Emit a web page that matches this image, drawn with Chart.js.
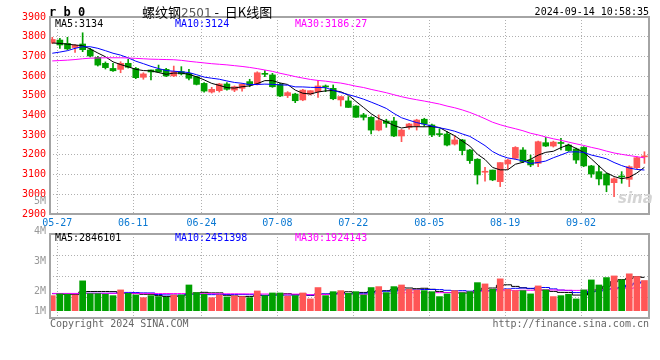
<!DOCTYPE html>
<html><head><meta charset="utf-8">
<script src="https://cdn.jsdelivr.net/npm/chart.js@4/dist/chart.umd.min.js"></script>
<style>
body{margin:0;background:#fff;width:660px;height:360px;position:relative;overflow:hidden;font-family:"DejaVu Sans Mono",monospace;}
canvas{position:absolute;left:0;}
.t{position:absolute;font-size:10px;line-height:10px;white-space:nowrap;}
</style></head><body>
<canvas id="k" width="660" height="232" style="top:0"></canvas>
<canvas id="v" width="660" height="150" style="top:190px"></canvas>
<div class="t" style="left:49px;top:6px;font-weight:bold;font-size:12px;line-height:12px;">r b 0</div>
<div class="t" style="left:142px;top:4px;font-size:13px;line-height:15px;font-family:'Noto Sans CJK SC',sans-serif;">螺纹钢<span style="color:#555;font-family:'DejaVu Sans',sans-serif;font-size:12px;">2501</span> - &nbsp;日K线图</div>
<div class="t" style="right:11px;top:7px;">2024-09-14 10:58:35</div>
<div class="t" style="left:55px;top:19px;color:#000;">MA5:3134</div>
<div class="t" style="left:175px;top:19px;color:#0000ff;">MA10:3124</div>
<div class="t" style="left:295px;top:19px;color:#ff00ff;">MA30:3186.27</div>
<div class="t" style="left:55px;top:233px;color:#000;">MA5:2846101</div>
<div class="t" style="left:175px;top:233px;color:#0000ff;">MA10:2451398</div>
<div class="t" style="left:295px;top:233px;color:#ff00ff;">MA30:1924143</div>
<div class="t" style="left:618px;top:191px;font-family:'DejaVu Sans',sans-serif;font-size:15px;line-height:15px;font-weight:bold;font-style:italic;color:#d4d4d4;">sina</div>
<div class="t" style="left:50px;top:319px;color:#666;">Copyright 2024 SINA.COM</div>
<div class="t" style="right:11px;top:319px;color:#666;">http://finance.sina.com.cn</div>
<script>
const dates = ['05-27','05-28','05-29','05-30','05-31',
'06-03','06-04','06-05','06-06','06-07','06-11','06-12','06-13','06-14','06-17','06-18','06-19','06-20','06-21','06-24','06-25','06-26','06-27','06-28',
'07-01','07-02','07-03','07-04','07-05','07-08','07-09','07-10','07-11','07-12','07-15','07-16','07-17','07-18','07-19','07-22','07-23','07-24','07-25','07-26','07-29','07-30','07-31',
'08-01','08-02','08-05','08-06','08-07','08-08','08-09','08-12','08-13','08-14','08-15','08-16','08-19','08-20','08-21','08-22','08-23','08-26','08-27','08-28','08-29','08-30',
'09-02','09-03','09-04','09-05','09-06','09-09','09-10','09-11','09-12','09-13'];
const dateTicks = ['05-27','06-11','06-24','07-08','07-22','08-05','08-19','09-02'];
const priceTicks = [3900,3800,3700,3600,3500,3400,3300,3200,3100,3000,2900];
const volTickLabels = ['5M','4M','3M','2M','1M'];

const opens = [3770,3783,3766,3745,3763,3733,3695,3665,3639,3634,
3665,3639,3594,3631,3634,3634,3601,3623,3614,3597,
3563,3519,3526,3560,3529,3538,3572,3560,3611,3606,
3558,3501,3509,3479,3509,3521,3547,3538,3479,3474,
3448,3403,3391,3326,3372,3372,3296,3340,3347,3381,
3352,3306,3306,3255,3276,3225,3178,3112,3123,3064,
3154,3183,3225,3174,3157,3262,3245,3260,3250,3230,
3238,3144,3115,3103,3059,3090,3076,3135,3190];
const highs = [3797,3792,3797,3760,3820,3741,3700,3672,3665,3673,
3685,3644,3617,3631,3656,3639,3651,3648,3634,3599,
3567,3543,3563,3567,3550,3560,3584,3622,3628,3614,
3563,3521,3513,3533,3526,3577,3555,3555,3496,3496,
3450,3411,3394,3403,3381,3391,3330,3360,3381,3386,
3356,3333,3318,3296,3279,3228,3181,3137,3123,3161,
3178,3242,3237,3199,3270,3289,3270,3284,3255,3235,
3242,3147,3144,3108,3083,3115,3145,3190,3216];
const lows = [3765,3741,3733,3720,3724,3697,3651,3636,3624,3617,
3641,3587,3584,3580,3618,3597,3597,3606,3580,3555,
3519,3514,3519,3529,3521,3524,3546,3555,3597,3543,
3496,3491,3465,3475,3504,3492,3521,3480,3448,3441,
3390,3377,3306,3322,3340,3292,3267,3330,3326,3345,
3293,3293,3245,3250,3200,3157,3052,3067,3069,3039,
3127,3178,3161,3140,3140,3242,3240,3225,3218,3157,
3140,3086,3047,3013,2988,3056,3039,3130,3157];
const closes = [3786,3758,3738,3756,3734,3702,3656,3643,3627,3665,
3645,3592,3611,3621,3621,3601,3623,3611,3589,3558,
3524,3533,3560,3533,3546,3558,3555,3617,3609,3546,
3499,3516,3475,3529,3526,3550,3545,3485,3496,3441,
3391,3391,3326,3374,3360,3296,3326,3357,3377,3357,
3301,3303,3250,3276,3222,3171,3098,3117,3073,3161,
3174,3238,3166,3149,3267,3245,3265,3258,3222,3174,
3144,3103,3078,3047,3079,3088,3140,3186,3193];
const volumes = [1280000,1430000,1400000,1340000,2540000,1450000,1450000,1400000,1280000,1770000,
1480000,1340000,1110000,1280000,1200000,1140000,1340000,1340000,2190000,1540000,
1400000,1110000,1340000,1170000,1250000,1200000,1110000,1680000,1280000,1510000,
1510000,1250000,1280000,1510000,1000000,1970000,1280000,1620000,1710000,1480000,
1620000,1340000,1970000,2050000,1540000,2050000,2190000,1820000,1770000,1710000,
1620000,1200000,1430000,1710000,1540000,1620000,2390000,2280000,1820000,2710000,
1820000,1710000,1710000,1430000,2110000,1770000,1200000,1280000,1400000,1000000,
1770000,2620000,2190000,2820000,2960000,2620000,3140000,2910000,2570000];

const ma5Head = [3768,3766,3762,3758];
const ma10Head = [3716,3722,3729,3741,3749,3749,3741,3729,3716];
const ma30Head = [3677,3679,3681,3684,3688,3691,3692,3693,3693,3693,3692,3690,3688,3686,3685,3684,3683,3680,3675,3671,3667,3663,3660,3657,3653,3649,3644,3638,3631];
const vma5Head = [1450000,1420000,1380000,1370000];
const vma10Head = [1460000,1460000,1450000,1450000,1470000,1480000,1480000,1480000,1480000];
const vma30Head = [1470000,1470000,1470000,1470000,1480000,1480000,1480000,1480000,1480000,1480000,1480000,1470000,1470000,1470000,1460000,1460000,1460000,1460000,1460000,1460000,1450000,1450000,1440000,1440000,1440000,1430000,1430000,1430000,1420000];

function movingAvg(vals, n, head){
  return vals.map((v,i)=>{
    if(i < n-1) return head[i];
    let s=0; for(let k=i-n+1;k<=i;k++) s+=vals[k];
    return s/n;
  });
}

const RED='#ff5656', GREEN='#00a000';
const up = closes.map((c,i)=>c>=opens[i]);
const colors = up.map(u=>u?RED:GREEN);
const XMIN=-0.3, XMAX=78.6, TICK_SHIFT=0.65;
const FONT={family:'"DejaVu Sans Mono", monospace', size:10};

const frame = {id:'frame', afterDraw(c){const a=c.chartArea,x=c.ctx;x.save();x.strokeStyle='#a4a4a4';x.lineWidth=2;x.strokeRect(a.left,a.top,a.right-a.left,a.bottom-a.top);x.restore();}};

function xScale(showLabels, h){
  return {type:'linear',min:XMIN,max:XMAX,offset:false,
    afterBuildTicks:s=>{s.ticks=dateTicks.map(d=>({value:dates.indexOf(d)+TICK_SHIFT}));},
    ticks:{display:showLabels,autoSkip:false,maxRotation:0,color:'#0a78d2',font:FONT,padding:3,callback:(v,i)=>dateTicks[i]},
    grid:{color:'#b0b0b0',lineWidth:1,drawTicks:false,offset:false},
    border:{display:false,dash:[1,2]},
    afterFit:s=>{s.height=h;}};
}
const lineDs=(data,color,extra)=>Object.assign({type:'line',data:data.map((v,i)=>({x:i,y:v})),borderColor:color,borderWidth:1,pointRadius:0,tension:0,fill:false},extra||{});

new Chart(document.getElementById('k'),{
  type:'bar',
  data:{datasets:[
    lineDs(movingAvg(closes,30,ma30Head),'#ff00ff'),
    lineDs(movingAvg(closes,10,ma10Head),'#0000ff'),
    lineDs(movingAvg(closes,5,ma5Head),'#000000'),
    {type:'bar',data:highs.map((h,i)=>({x:i,y:[lows[i],h]})),backgroundColor:colors,barThickness:1,grouped:false},
    {type:'bar',data:opens.map((o,i)=>({x:i,y:[o,closes[i]]})),backgroundColor:colors,barThickness:6,minBarLength:1,grouped:false}
  ]},
  options:{responsive:false,animation:false,
    layout:{padding:{top:17,right:11,left:0,bottom:0}},
    plugins:{legend:{display:false},tooltip:{enabled:false}},
    scales:{
      x:xScale(true,18),
      y:{min:2900,max:3900,
        afterBuildTicks:s=>{s.ticks=priceTicks.map(v=>({value:v}));},
        ticks:{color:'#ff0000',font:FONT,padding:4,autoSkip:false,callback:v=>String(v)},
        grid:{color:'#b0b0b0',lineWidth:1,drawTicks:false},
        border:{display:false,dash:[1,2]},
        afterFit:s=>{s.width=50;}}
    }},
  plugins:[frame]
});

const VMIN=-624000, VMAX=6532000;
new Chart(document.getElementById('v'),{
  type:'bar',
  data:{datasets:[
    {type:'bar',data:volumes.map((v,i)=>({x:i,y:v})),backgroundColor:colors,barThickness:6,grouped:false,yAxisID:'y'},
    lineDs(movingAvg(volumes,30,vma30Head),'#ff00ff',{stepped:'middle',yAxisID:'y'}),
    lineDs(movingAvg(volumes,10,vma10Head),'#0000ff',{stepped:'middle',yAxisID:'y'}),
    lineDs(movingAvg(volumes,5,vma5Head),'#000000',{stepped:'middle',yAxisID:'y'})
  ]},
  options:{responsive:false,animation:false,
    layout:{padding:{top:44,right:11,left:0,bottom:0}},
    plugins:{legend:{display:false},tooltip:{enabled:false}},
    scales:{
      x:xScale(false,22),
      y:{min:VMIN,max:VMAX,position:'left',
        afterBuildTicks:s=>{const st=(VMAX-VMIN)/4;s.ticks=[0,1,2,3,4].map(k=>({value:VMIN+k*st}));},
        ticks:{display:false},
        grid:{color:'#b0b0b0',lineWidth:1,drawTicks:false},
        border:{display:false,dash:[1,2]},
        afterFit:s=>{s.width=0;}},
      yl:{min:1.1,max:3.9,position:'left',
        afterBuildTicks:s=>{s.ticks=[5,4,3,2,1.33].map(v=>({value:v}));},
        ticks:{color:'#999999',font:FONT,padding:4,autoSkip:false,callback:(v,i)=>volTickLabels[i]},
        grid:{display:false,drawTicks:false},
        border:{display:false},
        afterFit:s=>{s.width=50;}}
    }},
  plugins:[frame]
});
</script>
</body></html>
